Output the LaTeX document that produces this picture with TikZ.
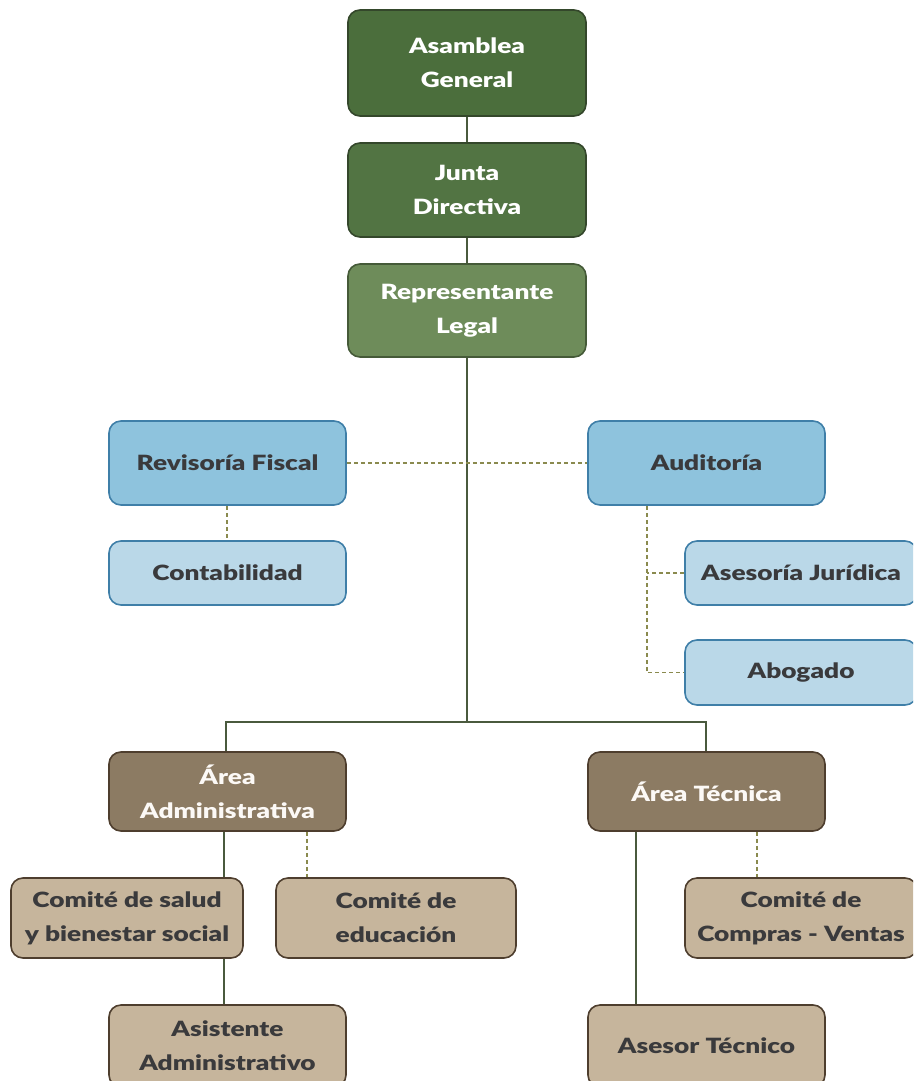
\documentclass[tikz,border=0pt]{standalone}
\usepackage{fontspec}
\setmainfont{Lato}
\newfontfamily\heavy{Lato Black}[FakeStretch=1.25]
\begin{document}
\begin{tikzpicture}[x=1pt,y=-1pt,
  box/.style={rounded corners=12pt, line width=1.6pt, align=center, inner sep=0pt,
    font=\heavy\fontsize{21}{34}\selectfont},
  gA/.style={box, fill=gA, draw=gAd, text=white},
  gB/.style={box, fill=gB, draw=gAd, text=white},
  gC/.style={box, fill=gC, draw=gCd, text=white},
  bl/.style={box, fill=blD, draw=blS, text=txt},
  bll/.style={box, fill=blL, draw=blS, text=txt},
  br/.style={box, fill=brD, draw=brS, text=white!95!brown},
  brl/.style={box, fill=brL, draw=brS, text=txt},
  conn/.style={draw=lineC, line width=1.5pt},
  dconn/.style={draw=dashC, line width=1.6pt, dash pattern=on 4pt off 3pt}]
\definecolor{gA}{HTML}{4B6E3C}
\definecolor{gB}{HTML}{527443}
\definecolor{gC}{HTML}{6E8C5A}
\definecolor{gAd}{HTML}{34472B}
\definecolor{gCd}{HTML}{455A38}
\definecolor{blD}{HTML}{8EC3DD}
\definecolor{blL}{HTML}{BAD8E8}
\definecolor{blS}{HTML}{3F7FA8}
\definecolor{brD}{HTML}{8C7B63}
\definecolor{brL}{HTML}{C6B59C}
\definecolor{brS}{HTML}{4E3E2E}
\definecolor{txt}{HTML}{3A3A3C}
\definecolor{lineC}{HTML}{4A5A3E}
\definecolor{dashC}{HTML}{8A8A4E}
\useasboundingbox (0,0) rectangle (913,1081);
\clip (0,0) rectangle (913,1081);
% nodes
\node[gA, minimum width=238pt, minimum height=106pt] (asam) at (467,63) {Asamblea\\General};
\node[gB, minimum width=238pt, minimum height=94pt] (junta) at (467,190) {Junta\\Directiva};
\node[gC, minimum width=238pt, minimum height=93pt] (rep) at (467,310.5) {Representante\\Legal};
\node[bl, minimum width=237pt, minimum height=84pt] (rev) at (227.5,463) {Revisoría Fiscal};
\node[bl, minimum width=237pt, minimum height=84pt] (aud) at (706.5,463) {Auditoría};
\node[bll, minimum width=237pt, minimum height=64pt] (cont) at (227.5,573) {Contabilidad};
\node[bll, minimum width=232pt, minimum height=64pt] (ases) at (801,573) {Asesoría Jurídica};
\node[bll, minimum width=232pt, minimum height=65pt] (abog) at (801,672.5) {Abogado};
\node[br, minimum width=237pt, minimum height=79pt] (admin) at (227.5,791.5) {Área\\Administrativa};
\node[br, minimum width=237pt, minimum height=79pt] (tec) at (706.5,791.5) {Área Técnica};
\node[brl, minimum width=232pt, minimum height=80pt] (salud) at (127,918) {Comité de salud\\y bienestar social};
\node[brl, minimum width=240pt, minimum height=80pt] (edu) at (396,918) {Comité de\\educación};
\node[brl, minimum width=232pt, minimum height=80pt] (comp) at (801,918) {Comité de\\Compras - Ventas};
\node[brl, minimum width=237pt, minimum height=82pt, text depth=0pt] (asis) at (227.5,1046) {Asistente\\Administrativo};
\node[brl, minimum width=237pt, minimum height=82pt] (aseT) at (706.5,1046) {Asesor Técnico};
\coordinate (j) at (467,722);
\coordinate (aL) at (647,672.5);
% connectors
\draw[conn] (asam) -- (junta);
\draw[conn] (junta) -- (rep);
\draw[conn] (rep) -- (j);
\draw[conn] (j) -| (admin.north -| 226,0);
\draw[conn] (j) -| (tec.north -| 706,0);
\draw[conn] (admin.south -| 224,0) -- (salud.north -| 224,0);
\draw[conn] (salud.south -| 224,0) -- (asis.north -| 224,0);
\draw[conn] (tec.south -| 636,0) -- (aseT.north -| 636,0);
\draw[dconn] (rev) -- (aud);
\draw[dconn] (rev.south -| 227,0) -- (cont.north -| 227,0);
\draw[dconn] (aud.south -| aL) -- (aL) -- (abog.west);
\draw[dconn] (ases.west) -- (ases.west -| aL);
\draw[dconn] (admin.south -| 307,0) -- (edu.north -| 307,0);
\draw[dconn] (tec.south -| 757,0) -- (comp.north -| 757,0);
\end{tikzpicture}
\end{document}
